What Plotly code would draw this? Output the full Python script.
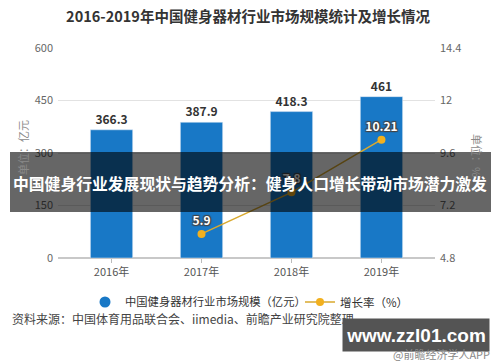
import plotly.graph_objects as go

years = ["2016年", "2017年", "2018年", "2019年"]
market_size = [366.3, 387.9, 418.3, 461]
growth_years = ["2017年", "2018年", "2019年"]
growth_rate = [5.9, 7.8, 10.21]
left_ticks = [0, 150, 300, 450, 600]
right_ticks = [4.8, 7.2, 9.6, 12, 14.4]

FONT = "Noto Sans CJK SC"
BLUE = "#1878C6"
GOLD = "#F2B01E"

fig = go.Figure()
fig.add_trace(go.Bar(
    x=years, y=market_size, marker_color=BLUE, width=0.47,
    text=[f"{v:g}" for v in market_size], textposition="outside",
    textfont=dict(family=FONT, size=12, color="#333333", weight="bold"),
    cliponaxis=False, showlegend=False, yaxis="y",
))
fig.add_trace(go.Scatter(
    x=[None], y=[None], mode="markers",
    marker=dict(symbol="circle", size=11, color=BLUE),
    name="中国健身器材行业市场规模（亿元）", showlegend=True, legend="legend",
))
fig.add_trace(go.Scatter(
    x=growth_years, y=growth_rate, mode="lines+markers+text", yaxis="y2",
    line=dict(color="#D9A92E", width=1.5),
    marker=dict(size=8, color=GOLD),
    text=[f"{v:g}" for v in growth_rate], textposition="top center",
    textfont=dict(family=FONT, size=12, color="white", weight="bold",
                  shadow="1px 1px 1px #444, -1px -1px 1px #444, 1px -1px 1px #444, -1px 1px 1px #444"),
    name="增长率（%）", cliponaxis=False, legend="legend2",
))

def px_x(p):
    return (p - 58) / 377

def px_y(p):
    return (258 - p) / 210

legend_common = dict(orientation="h", yanchor="middle", xanchor="left",
                     itemwidth=30, bgcolor="rgba(0,0,0,0)", borderwidth=0)

fig.update_layout(
    width=500, height=362,
    margin=dict(l=58, r=65, t=48, b=104),
    paper_bgcolor="white", plot_bgcolor="white",
    hovermode=False,
    font=dict(family=FONT, size=11, color="#555555"),
    title=dict(text="<b>2016-2019年中国健身器材行业市场规模统计及增长情况</b>",
               x=px_x(248), xanchor="center", xref="paper", y=1 - 17 / 362, yanchor="middle",
               font=dict(family=FONT, size=14.5, color="#333333")),
    xaxis=dict(range=[-0.595, 3.595], showgrid=False, ticks="outside", ticklen=4,
               tickcolor="#bbbbbb", showline=False,
               tickfont=dict(family=FONT, size=11, color="#555555")),
    yaxis=dict(range=[0, 600], tickvals=left_ticks, showgrid=True, gridcolor="#e2e2e2",
               zeroline=True, zerolinecolor="#c8c8c8", showline=False,
               tickfont=dict(family=FONT, size=11, color="#666666"), ticklabelstandoff=4),
    yaxis2=dict(range=[4.8, 14.4], tickvals=right_ticks, ticktext=["4.8", "7.2", "9.6", "12", "14.4"],
                overlaying="y", side="right", showgrid=False, zeroline=False,
                tickfont=dict(family=FONT, size=11, color="#666666"), ticklabelstandoff=4),
    legend=dict(x=px_x(85), y=px_y(302), font=dict(family=FONT, size=11.3, color="#333333"),
                **legend_common),
    legend2=dict(x=px_x(300), y=px_y(302), font=dict(family=FONT, size=11.5, color="#333333"),
                 **legend_common),
    bargap=0.5,
)

fig.add_annotation(text="单位：亿元", x=px_x(23), y=px_y(148), xref="paper", yref="paper",
                   xanchor="center", yanchor="middle",
                   textangle=-90, showarrow=False, font=dict(family=FONT, size=11, color="#8a8a8a"))
fig.add_annotation(text="单位：%", x=px_x(477), y=px_y(155), xref="paper", yref="paper",
                   xanchor="center", yanchor="middle",
                   textangle=90, showarrow=False, font=dict(family=FONT, size=11, color="#8a8a8a"))

fig.add_annotation(text="资料来源：中国体育用品联合会、iimedia、前瞻产业研究院整理",
                   x=px_x(10), y=px_y(329), xref="paper", yref="paper", xanchor="left",
                   showarrow=False, font=dict(family=FONT, size=12, color="#444444"))

# overlay banner
fig.add_shape(type="rect", xref="paper", yref="paper",
              x0=px_x(10), x1=px_x(491), y0=px_y(212), y1=px_y(152),
              fillcolor="rgba(0,0,0,0.6)", line_width=0, layer="above")
fig.add_annotation(text="<b>中国健身行业发展现状与趋势分析：健身人口增长带动市场潜力激发</b>",
                   x=px_x(250), y=px_y(183), xref="paper", yref="paper", showarrow=False,
                   xanchor="center", yanchor="middle",
                   font=dict(family=FONT, size=15.8, color="white"))

# watermark box (annotation so it covers the source text)
fig.add_annotation(text="<b>www.zzl01.com</b>", x=px_x(416), y=px_y(335), xref="paper", yref="paper",
                   xanchor="center", yanchor="middle",
                   showarrow=False, bgcolor="#545454", width=146, height=32, borderpad=0,
                   font=dict(family="Liberation Sans", size=19, color="white"))
fig.add_annotation(text="@前瞻经济学人APP", x=px_x(492), y=px_y(354), xref="paper", yref="paper",
                   xanchor="right", yanchor="middle",
                   showarrow=False, font=dict(family=FONT, size=11, color="#888888"))

fig.write_html("out.html", config={"displayModeBar": False},
               post_script="document.body.style.margin='0';")
